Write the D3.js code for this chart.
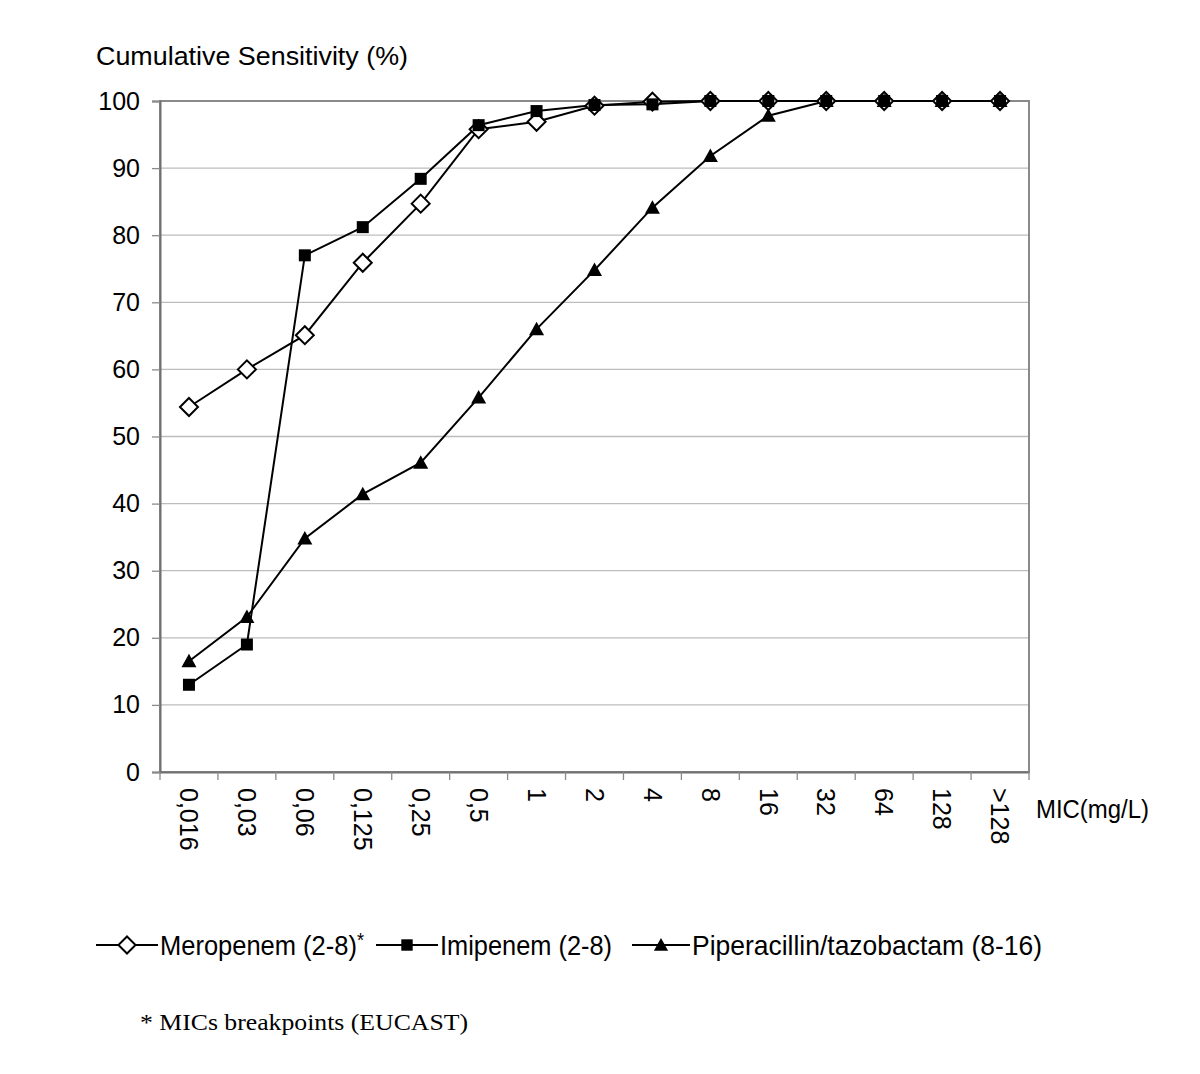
<!DOCTYPE html>
<html>
<head>
<meta charset="utf-8">
<script src="https://cdn.jsdelivr.net/npm/d3@7"></script>
<style>
  body { margin: 0; background: #fff; }
  svg { display: block; }
  .axis text { font-family: Arial, "Liberation Sans", sans-serif; font-size: 24px; fill: #000; }
</style>
</head>
<body>
<svg id="chart" width="1200" height="1074"></svg>
<script>
const categories = ['0,016', '0,03', '0,06', '0,125', '0,25', '0,5', '1', '2', '4', '8', '16', '32', '64', '128', '>128'];
const meropenem = [54.4, 60, 65.1, 75.9, 84.7, 95.8, 96.9, 99.3, 99.9, 100, 100, 100, 100, 100, 100];
const imipenem = [13, 19, 77, 81.2, 88.4, 96.4, 98.5, 99.4, 99.5, 100, 100, 100, 100, 100, 100];
const piperacillin = [16.5, 23.1, 34.8, 41.4, 46.1, 55.8, 66, 74.8, 84.1, 91.8, 97.8, 100, 100, 100, 100];
const yTicks = [0, 10, 20, 30, 40, 50, 60, 70, 80, 90, 100];

const series = [
  { name: 'Meropenem (2-8)', values: meropenem, marker: 'diamond', star: true },
  { name: 'Imipenem (2-8)', values: imipenem, marker: 'square' },
  { name: 'Piperacillin/tazobactam (8-16)', values: piperacillin, marker: 'triangle' }
];

const margin = { top: 101, left: 160, right: 171, bottom: 302 };
const svg = d3.select('#chart');
const W = 1200, H = 1074;
const width = W - margin.left - margin.right;
const height = H - margin.top - margin.bottom;

const x = d3.scaleBand().domain(categories).range([0, width]);
const y = d3.scaleLinear().domain([0, 100]).range([height, 0]);

const g = svg.append('g').attr('transform', `translate(${margin.left},${margin.top})`);

// grid
g.append('g')
  .selectAll('line')
  .data(yTicks.filter(d => d > 0))
  .join('line')
  .attr('x1', 0).attr('x2', width)
  .attr('y1', d => y(d)).attr('y2', d => y(d))
  .attr('stroke', '#bdbdbd').attr('stroke-width', 1.3);

// frame
g.append('rect')
  .attr('width', width).attr('height', height)
  .attr('fill', 'none').attr('stroke', '#8a8a8a').attr('stroke-width', 2);

const axisY = d3.axisLeft(y).tickValues(yTicks).tickSize(8).tickPadding(12);
const gy = g.append('g').attr('class', 'axis').call(axisY);
gy.select('.domain').attr('stroke', '#707070').attr('stroke-width', 2);
gy.selectAll('.tick line').attr('stroke', '#8a8a8a').attr('stroke-width', 1.3);
gy.selectAll('.tick text').style('font-size', '25px');

const axisX = d3.axisBottom(x).tickSize(0).tickPadding(0);
const gx = g.append('g').attr('class', 'axis').attr('transform', `translate(0,${height})`).call(axisX);
gx.select('.domain').attr('stroke', '#707070').attr('stroke-width', 2);
gx.selectAll('.tick text')
  .attr('transform', 'translate(0,16) rotate(90)')
  .attr('x', 0).attr('y', 0).attr('dy', '0.35em')
  .style('font-size', '25px')
  .style('text-anchor', 'start');

// x boundary ticks
g.append('g')
  .selectAll('line')
  .data(d3.range(categories.length + 1))
  .join('line')
  .attr('x1', i => i * x.step()).attr('x2', i => i * x.step())
  .attr('y1', height).attr('y2', height + 8)
  .attr('stroke', '#8a8a8a').attr('stroke-width', 1.3);

svg.append('text')
  .attr('x', 96).attr('y', 65)
  .style('font-family', 'Arial, "Liberation Sans", sans-serif')
  .style('font-size', '25px')
  .attr('textLength', 312).attr('lengthAdjust', 'spacingAndGlyphs')
  .text('Cumulative Sensitivity (%)');

svg.append('text')
  .attr('x', margin.left + width + 7).attr('y', margin.top + height + 46)
  .style('font-family', 'Arial, "Liberation Sans", sans-serif')
  .style('font-size', '25px')
  .attr('textLength', 113).attr('lengthAdjust', 'spacingAndGlyphs')
  .text('MIC(mg/L)');

function drawMarker(sel, type, s) {
  if (type === 'diamond') {
    sel.append('path')
      .attr('d', `M0,${-s}L${s},0L0,${s}L${-s},0Z`)
      .attr('fill', '#fff').attr('stroke', '#000').attr('stroke-width', 2);
  } else if (type === 'square') {
    sel.append('rect')
      .attr('x', -s).attr('y', -s).attr('width', 2 * s).attr('height', 2 * s)
      .attr('fill', '#000');
  } else {
    sel.append('path')
      .attr('d', `M0,${-s}L${s},${s * 0.8}L${-s},${s * 0.8}Z`)
      .attr('fill', '#000');
  }
}

const markerSize = { diamond: 9, square: 6, triangle: 7.5 };
const line = d3.line()
  .x((d, i) => x(categories[i]) + x.bandwidth() / 2)
  .y(d => y(d));

series.forEach(s => {
  g.append('path')
    .datum(s.values)
    .attr('d', line)
    .attr('fill', 'none').attr('stroke', '#000').attr('stroke-width', 2);
});

series.forEach(s => {
  g.append('g')
    .selectAll('g')
    .data(s.values)
    .join('g')
    .attr('transform', (d, i) => `translate(${x(categories[i]) + x.bandwidth() / 2},${y(d)})`)
    .each(function() { drawMarker(d3.select(this), s.marker, markerSize[s.marker]); });
});

// legend
const legendFont = 'Arial, "Liberation Sans", sans-serif';
const legendItems = [
  { x1: 96, x2: 158, tx: 160, tw: 204 },
  { x1: 376, x2: 438, tx: 440, tw: 172 },
  { x1: 632, x2: 690, tx: 692, tw: 350 }
];
const ly = 945;
series.forEach((s, i) => {
  const it = legendItems[i];
  const lg = svg.append('g');
  lg.append('line')
    .attr('x1', it.x1).attr('x2', it.x2).attr('y1', ly).attr('y2', ly)
    .attr('stroke', '#000').attr('stroke-width', 2);
  const m = lg.append('g').attr('transform', `translate(${(it.x1 + it.x2) / 2},${ly})`);
  drawMarker(m, s.marker, markerSize[s.marker] * 0.95);
  const t = lg.append('text')
    .attr('x', it.tx).attr('y', ly + 10)
    .attr('textLength', it.tw).attr('lengthAdjust', 'spacingAndGlyphs')
    .style('font-family', legendFont).style('font-size', '28px');
  t.append('tspan').text(s.name);
  if (s.star) {
    t.append('tspan')
      .attr('dy', -8)
      .style('font-size', '20px')
      .text('*');
  }
});

svg.append('text')
  .attr('x', 140).attr('y', 1030)
  .style('font-family', '"Liberation Serif", "Times New Roman", serif')
  .style('font-size', '24px')
  .attr('textLength', 328).attr('lengthAdjust', 'spacingAndGlyphs')
  .text('* MICs breakpoints (EUCAST)');
</script>
</body>
</html>
